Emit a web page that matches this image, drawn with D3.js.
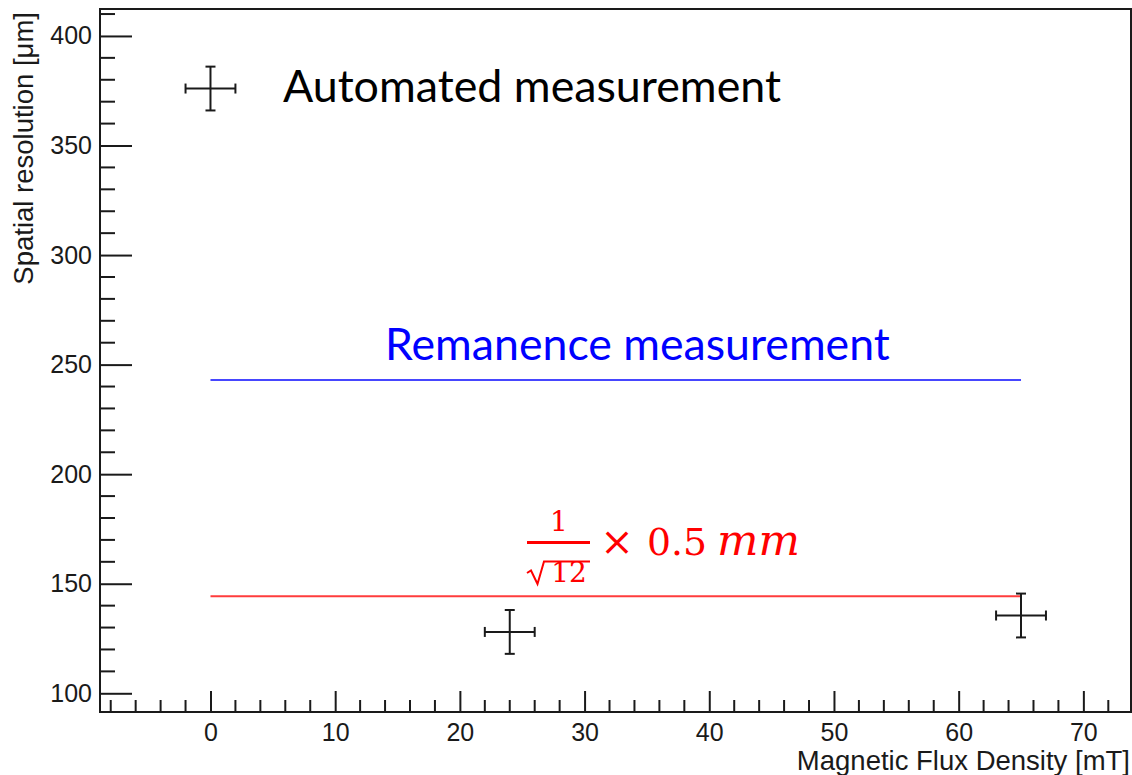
<!DOCTYPE html>
<html>
<head>
<meta charset="utf-8">
<script src="https://cdn.jsdelivr.net/npm/d3@7"></script>
<style>
  html, body { margin: 0; padding: 0; background: #fff; }
  svg { display: block; }
</style>
</head>
<body>
<script>
// measurements (x in mT, y in um)
var fluxValues = [0, 24, 65];
var resolutionValues = [376, 128, 135.5];
var fluxErrors = [2, 2, 2];
var resolutionErrors = [10, 10, 10];

// reference levels
var remanenceLevel = 243;
var pitchLevel = 500 / Math.sqrt(12); // 1/sqrt(12) x 0.5 mm
var levelRange = [0, 65];

var xTickValues = [0, 10, 20, 30, 40, 50, 60, 70];
var yTickValues = [100, 150, 200, 250, 300, 350, 400];

function init(){
	var w = 1132;
	var h = 775;
	var left = 100, right = 1131, top = 9, bottom = 712;

	var svg = d3.select("body")
		.append("svg")
		.attr("width", w)
		.attr("height", h);

	var xScale = d3.scaleLinear()
		.domain([-8.86, 73.82])
		.range([left, right]);

	var yScale = d3.scaleLinear()
		.domain([91.46, 412.3])
		.range([bottom, top]);

	var axisFont = "'Liberation Sans', Arial, Helvetica, sans-serif";
	var ink = "#1a1a1a";

	// y axis ticks (inside the frame)
	var yMinor = d3.range(100, 411, 10).filter(function(v){ return v % 50 !== 0; });
	svg.append("g")
		.selectAll("line")
		.data(yMinor)
		.enter()
		.append("line")
		.attr("x1", left).attr("x2", left + 15)
		.attr("y1", function(d){ return yScale(d); })
		.attr("y2", function(d){ return yScale(d); })
		.attr("stroke", ink).attr("stroke-width", 2);

	var yAxis = d3.axisLeft(yScale)
		.tickValues(yTickValues)
		.tickSize(-32)
		.tickPadding(40)
		.tickFormat(d3.format("d"));

	var gy = svg.append("g")
		.attr("transform", "translate(" + left + ",0)")
		.call(yAxis);
	gy.select(".domain").remove();
	gy.selectAll("line").attr("stroke", ink).attr("stroke-width", 2);
	gy.selectAll("text")
		.attr("x", -8)
		.attr("fill", ink)
		.style("font-family", axisFont)
		.style("font-size", "25px");

	// x axis ticks (inside the frame)
	var xMinor = d3.range(-8, 74, 2).filter(function(v){ return v % 10 !== 0; });
	svg.append("g")
		.selectAll("line")
		.data(xMinor)
		.enter()
		.append("line")
		.attr("x1", function(d){ return xScale(d); })
		.attr("x2", function(d){ return xScale(d); })
		.attr("y1", bottom).attr("y2", bottom - 12)
		.attr("stroke", ink).attr("stroke-width", 2);

	var xAxis = d3.axisBottom(xScale)
		.tickValues(xTickValues)
		.tickSize(-21)
		.tickPadding(30)
		.tickFormat(d3.format("d"));

	var gx = svg.append("g")
		.attr("transform", "translate(0," + bottom + ")")
		.call(xAxis);
	gx.select(".domain").remove();
	gx.selectAll("line").attr("stroke", ink).attr("stroke-width", 2);
	gx.selectAll("text")
		.attr("y", 11)
		.attr("fill", ink)
		.style("font-family", axisFont)
		.style("font-size", "25px");

	// frame
	svg.append("rect")
		.attr("x", left).attr("y", top)
		.attr("width", right - left).attr("height", bottom - top)
		.attr("fill", "none")
		.attr("stroke", ink)
		.attr("stroke-width", 2);

	// axis titles
	svg.append("text")
		.attr("x", 1130)
		.attr("y", 770)
		.attr("text-anchor", "end")
		.attr("fill", ink)
		.style("font-family", axisFont)
		.style("font-size", "27.5px")
		.text("Magnetic Flux Density [mT]");

	svg.append("text")
		.attr("transform", "translate(33,12) rotate(-90)")
		.attr("text-anchor", "end")
		.attr("fill", ink)
		.style("font-family", axisFont)
		.style("font-size", "27.5px")
		.text("Spatial resolution [\u03bcm]");

	// reference lines
	svg.append("line")
		.attr("x1", xScale(levelRange[0])).attr("x2", xScale(levelRange[1]))
		.attr("y1", yScale(remanenceLevel)).attr("y2", yScale(remanenceLevel))
		.attr("stroke", "#4646ff")
		.attr("stroke-width", 2);

	svg.append("line")
		.attr("x1", xScale(levelRange[0])).attr("x2", xScale(levelRange[1]))
		.attr("y1", yScale(pitchLevel)).attr("y2", yScale(pitchLevel))
		.attr("stroke", "#ff3c3c")
		.attr("stroke-width", 2);

	// data points with error bars
	var points = fluxValues.map(function(x, i){
		return {x: x, y: resolutionValues[i], ex: fluxErrors[i], ey: resolutionErrors[i]};
	});

	var pg = svg.append("g")
		.selectAll("g")
		.data(points)
		.enter()
		.append("g")
		.attr("stroke", ink)
		.attr("stroke-width", 2);

	pg.append("line")
		.attr("x1", function(d){ return xScale(d.x - d.ex); })
		.attr("x2", function(d){ return xScale(d.x + d.ex); })
		.attr("y1", function(d){ return yScale(d.y); })
		.attr("y2", function(d){ return yScale(d.y); });
	pg.append("line")
		.attr("x1", function(d){ return xScale(d.x); })
		.attr("x2", function(d){ return xScale(d.x); })
		.attr("y1", function(d){ return yScale(d.y - d.ey); })
		.attr("y2", function(d){ return yScale(d.y + d.ey); });
	// caps
	[-1, 1].forEach(function(s){
		pg.append("line")
			.attr("x1", function(d){ return xScale(d.x + s * d.ex); })
			.attr("x2", function(d){ return xScale(d.x + s * d.ex); })
			.attr("y1", function(d){ return yScale(d.y) - 5; })
			.attr("y2", function(d){ return yScale(d.y) + 5; });
		pg.append("line")
			.attr("x1", function(d){ return xScale(d.x) - 5; })
			.attr("x2", function(d){ return xScale(d.x) + 5; })
			.attr("y1", function(d){ return yScale(d.y + s * d.ey); })
			.attr("y2", function(d){ return yScale(d.y + s * d.ey); });
	});

	// annotations
	var noteFont = "Lato, 'Open Sans', sans-serif";
	function fitWidth(sel, target){
		var len = sel.node().getComputedTextLength();
		var fs = parseFloat(sel.style("font-size"));
		sel.style("font-size", (fs * target / len) + "px");
	}

	var auto = svg.append("text")
		.attr("x", 283).attr("y", 102)
		.attr("fill", "#000")
		.style("font-family", noteFont)
		.style("font-size", "44px")
		.text("Automated measurement");
	fitWidth(auto, 498);

	var rem = svg.append("text")
		.attr("x", 385).attr("y", 360)
		.attr("fill", "#0000ff")
		.style("font-family", noteFont)
		.style("font-size", "44px")
		.text("Remanence measurement");
	fitWidth(rem, 505);

	// 1/sqrt(12) x 0.5 mm
	var mathFont = "'DejaVu Serif', 'Liberation Serif', serif";
	var red = "#ff0000";
	var f = svg.append("g").attr("fill", red).style("font-family", mathFont);
	f.append("text").attr("x", 559).attr("y", 531).attr("text-anchor", "middle")
		.style("font-size", "28px").text("1");
	f.append("rect").attr("x", 527).attr("y", 541).attr("width", 63).attr("height", 3);
	f.append("path")
		.attr("d", "M527,573 L531,570.5 L537.5,584 L544,561.5 L590,561.5")
		.attr("fill", "none")
		.attr("stroke", red)
		.attr("stroke-width", 2)
		.attr("stroke-linejoin", "miter");
	f.append("text").attr("x", 569).attr("y", 582).attr("text-anchor", "middle")
		.style("font-size", "28px").text("12");
	f.append("text").attr("x", 617).attr("y", 555).attr("text-anchor", "middle")
		.style("font-size", "40px").text("\u00d7");
	var half = f.append("text").attr("x", 647).attr("y", 555)
		.style("font-size", "42px").text("0.5");
	fitWidth(half, 60);
	var mm = f.append("text").attr("x", 717).attr("y", 555)
		.style("font-size", "42px").style("font-style", "italic").text("mm");
	fitWidth(mm, 83);
}

window.onload = init;
</script>
</body>
</html>
